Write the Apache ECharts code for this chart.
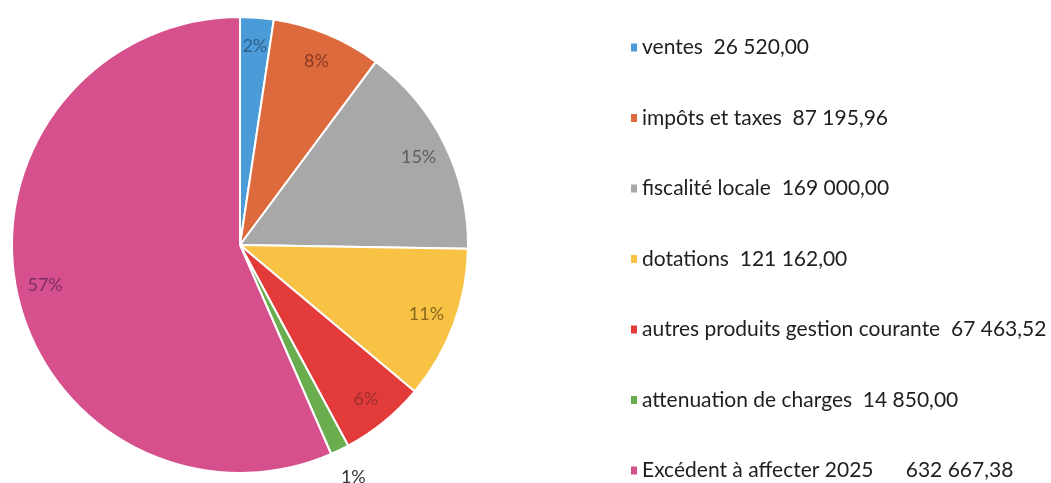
<!DOCTYPE html>
<html>
<head>
<meta charset="utf-8">
<script src="https://cdn.jsdelivr.net/npm/echarts@6/dist/echarts.min.js"></script>
<style>html,body{margin:0;padding:0;background:#fff}#c{width:1051px;height:483px}</style>
</head>
<body>
<div id="c"></div>
<script>
const categories = ["ventes", "impôts et taxes", "fiscalité locale", "dotations", "autres produits gestion courante", "attenuation de charges", "Excédent à affecter 2025    "];
const values = [26520.00, 87195.96, 169000.00, 121162.00, 67463.52, 14850.00, 632667.38];
const colors = ["#4a9bd8", "#dc6a3c", "#a8a8a8", "#f8c245", "#e23b3a", "#6aad4f", "#d5508c"];
const labelColors = ["#2f5f8a", "#8a3a22", "#5e5e5e", "#8a6a1a", "#9a3030", "#333333", "#7e2e66"];

function fmt(v) {
  const parts = v.toFixed(2).split(".");
  const intPart = parts[0].replace(/\B(?=(\d{3})+(?!\d))/g, " ");
  return intPart + "," + parts[1];
}
const nameMap = {};
categories.forEach((c, i) => { nameMap[c] = c + "  " + fmt(values[i]); });

const center = [240, 245];
const R = 228;
const outsideIndex = 5;

const data = categories.map((c, i) => ({ name: c, value: values[i], itemStyle: { color: colors[i] } }));
const labelData = categories.map((c, i) => {
  const d = { name: c, value: values[i], label: { color: labelColors[i] } };
  if (i === outsideIndex) {
    d.label = { position: "outside", color: "#333", fontSize: 18 };
    d.labelLine = { show: false, length: 14, length2: 0 };
  }
  return d;
});

const chart = echarts.init(document.getElementById("c"), null, { renderer: "canvas" });
chart.setOption({
  animation: false,
  color: colors,
  legend: {
    orient: "vertical",
    left: 624,
    top: 32,
    height: 450,
    itemGap: 49.5,
    itemWidth: 8,
    itemHeight: 10,
    icon: "rect",
    data: categories,
    formatter: n => nameMap[n],
    textStyle: { fontFamily: "Lato", fontSize: 21, color: "#1e1e1e", padding: [0, 0, 0, -1] }
  },
  series: [
    {
      type: "pie",
      center: center,
      radius: [0, R],
      startAngle: 90,
      clockwise: true,
      avoidLabelOverlap: false,
      silent: true,
      label: { show: false },
      labelLine: { show: false },
      itemStyle: { borderColor: "#fff", borderWidth: 2 },
      data: data
    },
    {
      type: "pie",
      center: center,
      radius: [R * 0.72, R],
      startAngle: 90,
      clockwise: true,
      avoidLabelOverlap: false,
      silent: true,
      legendHoverLink: false,
      itemStyle: { color: "rgba(0,0,0,0)", borderWidth: 0 },
      label: {
        show: true,
        position: "inside",
        formatter: p => Math.round(p.percent) + "%",
        fontFamily: "Lato",
        fontSize: 18
      },
      labelLine: { show: false },
      labelLayout: p => (p.dataIndex === outsideIndex ? { dx: -10, dy: 15 } : {}),
      data: labelData
    }
  ]
});
</script>
</body>
</html>
